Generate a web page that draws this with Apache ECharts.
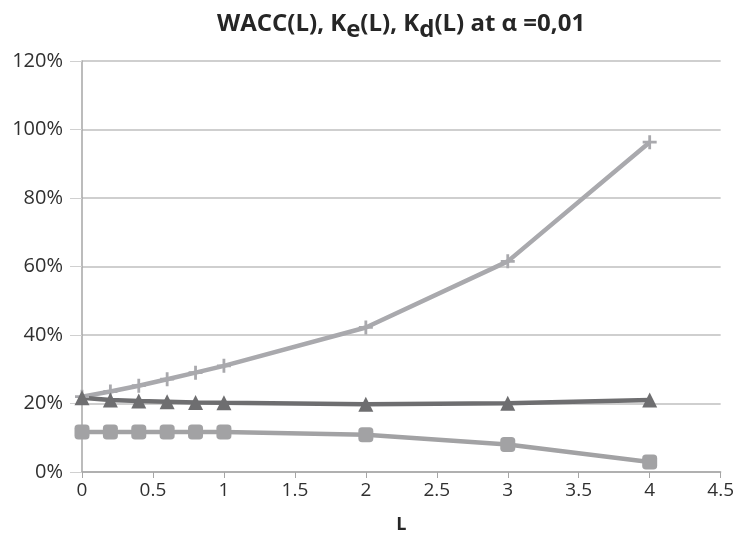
<!DOCTYPE html>
<html><head><meta charset="utf-8">
<script src="https://cdn.jsdelivr.net/npm/echarts@6/dist/echarts.min.js"></script>
<style>html,body{margin:0;padding:0;background:#fff}#c{width:737px;height:539px}</style>
</head><body><div id="c"></div>
<script>
const L = [0, 0.2, 0.4, 0.6, 0.8, 1, 2, 3, 4];
const Ke = [22.0, 23.5, 25.2, 27.1, 29.0, 31.0, 42.2, 61.5, 96.3];
const WACC = [21.7, 21.0, 20.7, 20.5, 20.3, 20.2, 19.8, 20.1, 21.0];
const Kd = [11.7, 11.7, 11.7, 11.7, 11.7, 11.7, 10.9, 8.0, 2.9];
const yTicks = [0, 20, 40, 60, 80, 100, 120];
const xTicks = [0, 0.5, 1, 1.5, 2, 2.5, 3, 3.5, 4, 4.5];

const pair = (ys) => L.map((x, i) => [x, ys[i]]);
const chart = echarts.init(document.getElementById('c'));
const font = "'Open Sans', 'Liberation Sans', sans-serif";
chart.setOption({
  animation: false,
  backgroundColor: '#fff',
  title: {
    text: '{t|WACC(L), K}{s|e}{t|(L), K}{s|d}{t|(L) at α =0,01}',
    left: 212, top: 2,
    padding: 5,
    textStyle: {
      rich: {
        t: {fontFamily: font, fontWeight: 'bold', fontSize: 24, color: '#262626'},
        s: {fontFamily: font, fontWeight: 'bold', fontSize: 24, color: '#262626', padding: [11, 0, 0, 0]}
      }
    }
  },
  grid: {left: 82, right: 14, top: 61, bottom: 62, containLabel: false},
  xAxis: {
    type: 'value', min: 0, max: 4.5, interval: 0.5,
    name: 'L', nameLocation: 'middle', nameGap: 44,
    nameTextStyle: {fontFamily: font, fontWeight: 'bold', fontSize: 18, color: '#262626'},
    axisLine: {show: true, lineStyle: {color: '#a6a6a6', width: 1.5}},
    axisTick: {show: true, length: 6, lineStyle: {color: '#a6a6a6'}},
    axisLabel: {fontFamily: font, fontSize: 19, color: '#303030', margin: 9,
      formatter: v => xTicks.includes(v) ? String(v) : ''},
    splitLine: {show: false}
  },
  yAxis: {
    type: 'value', min: 0, max: 120, interval: 20,
    axisLine: {show: true, lineStyle: {color: '#a6a6a6', width: 1.5}},
    axisTick: {show: true, length: 12, lineStyle: {color: '#d0d0d0'}},
    axisLabel: {fontFamily: font, fontSize: 20, color: '#303030', margin: 19,
      formatter: v => yTicks.includes(v) ? v + '%' : ''},
    splitLine: {show: true, lineStyle: {color: '#bfbfbf', width: 1.5}}
  },
  series: [
    {
      name: 'Ke', type: 'line', data: pair(Ke),
      symbol: 'path://M4,0 L6,0 L6,4 L10,4 L10,6 L6,6 L6,10 L4,10 L4,6 L0,6 L0,4 L4,4 Z',
      symbolSize: 14,
      lineStyle: {color: '#a9a9ad', width: 4.5},
      itemStyle: {color: '#a9a9ad'}
    },
    {
      name: 'WACC', type: 'line', data: pair(WACC),
      symbol: 'triangle', symbolSize: 15,
      lineStyle: {color: '#6e6e70', width: 4.5},
      itemStyle: {color: '#6e6e70'}
    },
    {
      name: 'Kd', type: 'line', data: pair(Kd),
      symbol: 'roundRect', symbolSize: 15,
      lineStyle: {color: '#a2a2a4', width: 4.5},
      itemStyle: {color: '#a2a2a4'}
    }
  ]
});
</script></body></html>
